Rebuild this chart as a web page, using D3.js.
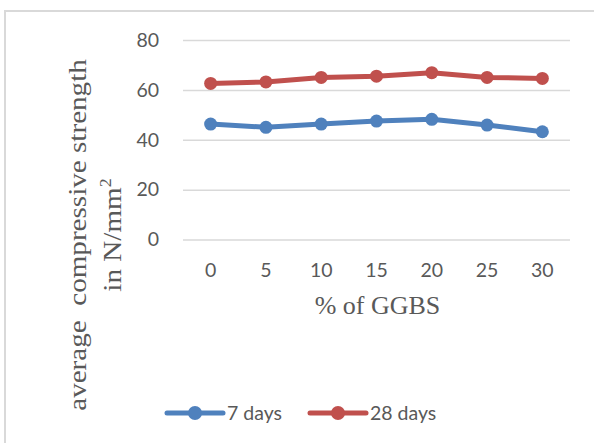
<!DOCTYPE html>
<html>
<head>
<meta charset="utf-8">
<script src="https://cdn.jsdelivr.net/npm/d3@7/dist/d3.min.js"></script>
<style>
  html, body { margin: 0; padding: 0; background: #fff; }
  svg { display: block; }
</style>
</head>
<body>
<div id="chart"></div>
<script>
// GGBS replacement levels (%) and average compressive strength (N/mm²)
const categories = ["0", "5", "10", "15", "20", "25", "30"];
const days7  = [46.3, 45.0, 46.3, 47.5, 48.2, 45.9, 43.2];
const days28 = [62.6, 63.2, 65.0, 65.5, 66.9, 65.0, 64.6];
const yTicks = [0, 20, 40, 60, 80];
const seriesNames = ["7 days", "28 days"];
const seriesColors = ["#4F81BD", "#C0504D"];

const W = 594, H = 443;
const svg = d3.select("#chart").append("svg")
  .attr("width", W).attr("height", H);

// chart area frame
svg.append("rect")
  .attr("x", 5).attr("y", 11)
  .attr("width", W + 10).attr("height", H + 10)
  .attr("fill", "#fff").attr("stroke", "#d9d9d9").attr("stroke-width", 2);

const plot = { left: 183, right: 570, top: 40, bottom: 239.5 };

const x = d3.scaleBand().domain(categories).range([plot.left, plot.right]);
const y = d3.scaleLinear().domain([0, 80]).range([plot.bottom, plot.top]);

const sansFont = "Lato, 'Open Sans', sans-serif";
const serifFont = "'Liberation Serif', 'Times New Roman', serif";
const textColor = "#595959";

// horizontal gridlines + y labels via axis
const yAxis = svg.append("g")
  .attr("transform", `translate(${plot.left},0)`)
  .call(d3.axisLeft(y).tickValues(yTicks).tickSize(-(plot.right - plot.left)).tickPadding(24));
yAxis.select(".domain").remove();
yAxis.selectAll(".tick line").attr("stroke", "#d9d9d9").attr("stroke-width", 1.5);
yAxis.selectAll(".tick text")
  .attr("fill", textColor).style("font-family", sansFont).style("font-size", "19.5px");

// x category labels
const xAxis = svg.append("g")
  .attr("transform", `translate(0,${plot.bottom})`)
  .call(d3.axisBottom(x).tickSize(0).tickPadding(24));
xAxis.select(".domain").remove();
xAxis.selectAll(".tick text")
  .attr("fill", textColor).style("font-family", sansFont).style("font-size", "19.5px");

// axis titles
svg.append("text")
  .attr("x", (plot.left + plot.right) / 2 + 1).attr("y", 314)
  .attr("text-anchor", "middle")
  .attr("fill", textColor)
  .style("font-family", serifFont).style("font-size", "26px")
  .text("% of GGBS");

// vertical title, stretched along its length
const yTitle = svg.append("g").attr("transform", "translate(0,235) rotate(-90) scale(1.12,1)");
yTitle.append("text")
  .attr("x", 0).attr("y", 86)
  .attr("text-anchor", "middle")
  .attr("fill", textColor)
  .style("font-family", serifFont).style("font-size", "26px")
  .style("white-space", "pre")
  .text("average  compressive strength");
const line2 = yTitle.append("text")
  .attr("x", 0).attr("y", 121)
  .attr("text-anchor", "middle")
  .attr("fill", textColor)
  .style("font-family", serifFont).style("font-size", "26px");
line2.append("tspan").text("in N/mm");
line2.append("tspan").attr("dy", -10).style("font-size", "16px").text("2");

// series lines + markers
const data = [days7, days28];
const lineGen = d3.line()
  .x((d, i) => x(categories[i]) + x.bandwidth() / 2)
  .y(d => y(d));

data.forEach((vals, s) => {
  const g = svg.append("g");
  g.append("path")
    .datum(vals)
    .attr("d", lineGen)
    .attr("fill", "none")
    .attr("stroke", seriesColors[s])
    .attr("stroke-width", 5)
    .attr("stroke-linejoin", "round");
  g.selectAll("circle")
    .data(vals)
    .join("circle")
    .attr("cx", (d, i) => x(categories[i]) + x.bandwidth() / 2)
    .attr("cy", d => y(d))
    .attr("r", 6.5)
    .attr("fill", seriesColors[s]);
});

// legend
const legendY = 413;
const legendItems = [{ x0: 167 }, { x0: 310 }];
legendItems.forEach((it, s) => {
  const g = svg.append("g");
  g.append("line")
    .attr("x1", it.x0).attr("x2", it.x0 + 56)
    .attr("y1", legendY).attr("y2", legendY)
    .attr("stroke", seriesColors[s]).attr("stroke-width", 5)
    .attr("stroke-linecap", "round");
  g.append("circle")
    .attr("cx", it.x0 + 28).attr("cy", legendY).attr("r", 7)
    .attr("fill", seriesColors[s]);
  g.append("text")
    .attr("x", it.x0 + 60).attr("y", legendY)
    .attr("dy", "0.36em")
    .attr("fill", textColor)
    .style("font-family", sansFont).style("font-size", "19.5px")
    .text(seriesNames[s]);
});
</script>
</body>
</html>
